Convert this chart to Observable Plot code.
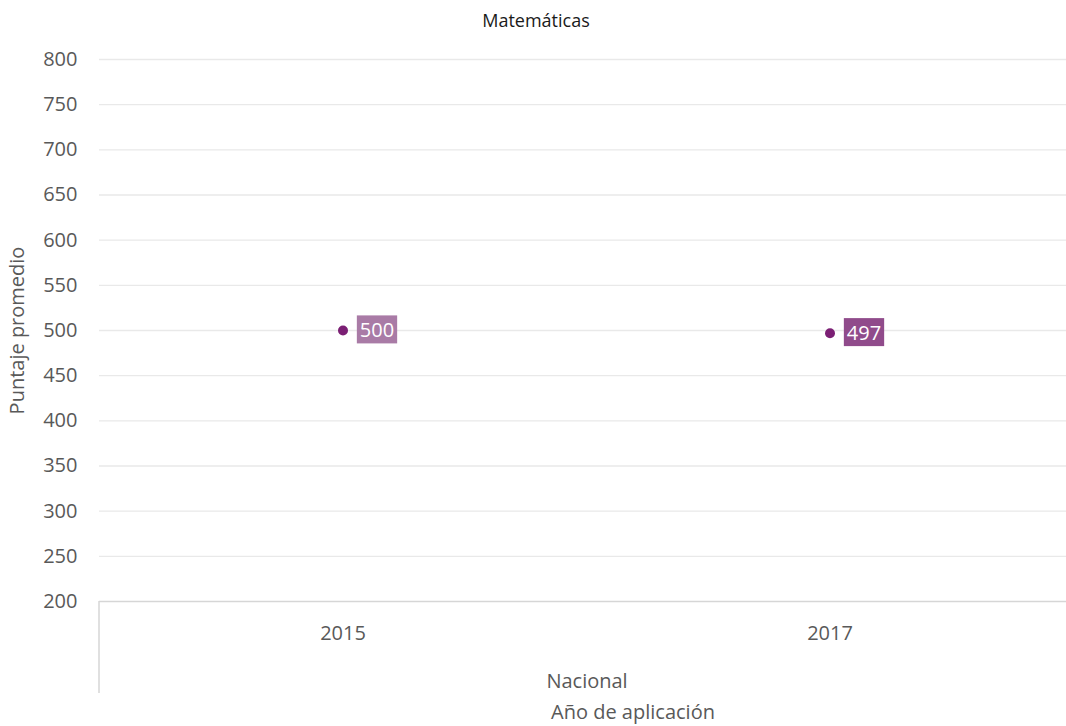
<!DOCTYPE html>
<html>
<head>
<meta charset="utf-8">
<script src="https://cdn.jsdelivr.net/npm/d3@7"></script>
<script src="https://cdn.jsdelivr.net/npm/@observablehq/plot@0.6"></script>
<style>
  body { margin: 0; background: white; }
  #title { width: 1072px; height: 40px; line-height: 40px; text-align: center; font-family: "Open Sans", sans-serif; font-size: 18px; color: #1a1a1a; }
</style>
</head>
<body>
<div id="title">Matemáticas</div>
<div id="chart"></div>
<script>
const years = ["2015", "2017"];
const scores = [500, 497];
const labelFills = ["#A97BA6", "#904B8B"];
const yTicks = [200, 250, 300, 350, 400, 450, 500, 550, 600, 650, 700, 750, 800];
const yTitle = "Puntaje promedio";
const groupLabel = "Nacional";
const xTitle = "Año de aplicación";

const data = years.map((y, i) => ({year: y, score: scores[i], fill: labelFills[i]}));

const chart = Plot.plot({
  width: 1066,
  height: 686,
  marginTop: 19,
  marginBottom: 125,
  marginLeft: 99,
  marginRight: 0,
  style: {fontFamily: "Open Sans, sans-serif", fontSize: "20px", color: "#595959", background: "white", overflow: "visible"},
  x: {type: "band", domain: years, range: [99, 1073], padding: 0, tickSize: 0, tickPadding: 24, label: null},
  y: {domain: [200, 800], ticks: yTicks, tickSize: 0, tickPadding: 22, tickFormat: d => String(d), label: null},
  marks: [
    Plot.ruleY(yTicks.filter(t => t > 200), {stroke: "#e9e9e9", strokeWidth: 1.3}),
    Plot.ruleY([200], {stroke: "#d6d6d6", strokeWidth: 1.5}),
    Plot.text([yTitle], {frameAnchor: "left", textAnchor: "middle", dx: -82, rotate: -90, fill: "#595959", fontSize: 20}),
    Plot.text([groupLabel], {frameAnchor: "bottom", dx: 4, dy: 86, fill: "#595959", fontSize: 20}),
    Plot.text([xTitle], {frameAnchor: "bottom", dx: 50, dy: 117, fill: "#595959", fontSize: 20}),
    Plot.dot(data, {x: "year", y: "score", r: 5, fill: "#7B1F74", stroke: "none"}),
    Plot.text(data, {x: "year", y: "score", text: d => String(d.score), dx: 34, fill: "white", fontSize: 20})
  ]
});

document.getElementById("chart").appendChild(chart);

const svg = d3.select(chart);
const textGroups = svg.selectAll('g[aria-label="text"]').nodes();
const labelGroup = textGroups[textGroups.length - 1];
d3.select(labelGroup).selectAll("text").each(function(_, i) {
  const bb = this.getBBox();
  const g = this.parentNode;
  const rect = document.createElementNS("http://www.w3.org/2000/svg", "rect");
  rect.setAttribute("x", bb.x - 3);
  rect.setAttribute("y", bb.y - 0.5);
  rect.setAttribute("width", bb.width + 6);
  rect.setAttribute("height", bb.height + 1);
  rect.setAttribute("fill", data[i].fill);
  const tr = this.getAttribute("transform");
  if (tr) rect.setAttribute("transform", tr);
  g.insertBefore(rect, this);
});

svg.append("line")
  .attr("x1", 99).attr("x2", 99)
  .attr("y1", 561).attr("y2", 653)
  .attr("stroke", "#d6d6d6").attr("stroke-width", 1.5);
</script>
</body>
</html>
